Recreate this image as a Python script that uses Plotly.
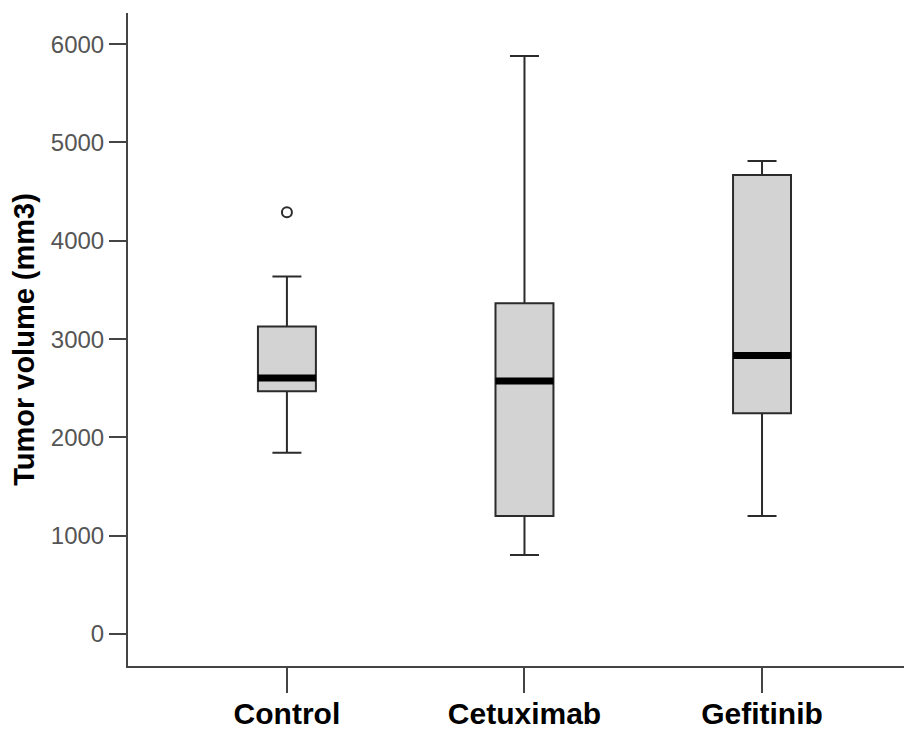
import plotly.graph_objects as go

# ---- data ----
groups = ["Control", "Cetuximab", "Gefitinib"]
lower_whisker = [1845, 803, 1200]
q1_vals = [2470, 1200, 2245]
median_vals = [2605, 2575, 2832]
q3_vals = [3127, 3365, 4670]
upper_whisker = [3636, 5880, 4812]
outlier_group = ["Control"]
outlier_vals = [4290]
y_ticks = [0, 1000, 2000, 3000, 4000, 5000, 6000]

# ---- style ----
box_width = 0.244
pos = list(range(len(groups)))
font_family = "Liberation Sans, Arial, sans-serif"
line_col = "#2b2b2b"

fig = go.Figure()

fig.add_trace(go.Box(
    x=pos,
    q1=q1_vals,
    median=median_vals,
    q3=q3_vals,
    lowerfence=lower_whisker,
    upperfence=upper_whisker,
    width=box_width,
    whiskerwidth=0.5,
    fillcolor="#d3d3d3",
    line=dict(color=line_col, width=2),
    boxpoints=False,
    showlegend=False,
    hoverinfo="skip",
))

# thick median bands
for i, m in zip(pos, median_vals):
    fig.add_trace(go.Scatter(
        x=[i - box_width / 2, i + box_width / 2],
        y=[m, m],
        mode="lines",
        line=dict(color="black", width=7),
        showlegend=False,
        hoverinfo="skip",
    ))

# outliers
fig.add_trace(go.Scatter(
    x=[groups.index(g) for g in outlier_group],
    y=outlier_vals,
    mode="markers",
    marker=dict(symbol="circle-open", size=10, color=line_col, line=dict(width=2)),
    showlegend=False,
    hoverinfo="skip",
))

fig.update_layout(
    width=912,
    height=731,
    margin=dict(l=120, r=0, t=5, b=73),
    paper_bgcolor="white",
    plot_bgcolor="white",
    font=dict(family=font_family),
    xaxis=dict(
        range=[-0.669, 2.665],
        tickvals=pos,
        ticktext=groups,
        ticks="outside",
        ticklen=25,
        tickwidth=2,
        tickcolor="#444",
        showline=True,
        linecolor="#444",
        linewidth=2,
        showgrid=False,
        zeroline=False,
        automargin=False,
        tickfont=dict(size=30, color="black", family=font_family, weight="bold"),
        ticklabelstandoff=-5,
    ),
    yaxis=dict(
        range=[-325, 6317],
        tickvals=y_ticks,
        ticks="outside",
        ticklen=17,
        tickwidth=2,
        tickcolor="#444",
        showline=True,
        linecolor="#444",
        linewidth=2,
        showgrid=False,
        zeroline=False,
        automargin=False,
        tickfont=dict(size=24, color="#555555", family=font_family),
        ticklabelstandoff=0,
        title=dict(
            text="Tumor volume (mm3)",
            font=dict(size=29, color="black", family=font_family, weight="bold"),
            standoff=14,
        ),
    ),
)

fig.write_html("out.html")
